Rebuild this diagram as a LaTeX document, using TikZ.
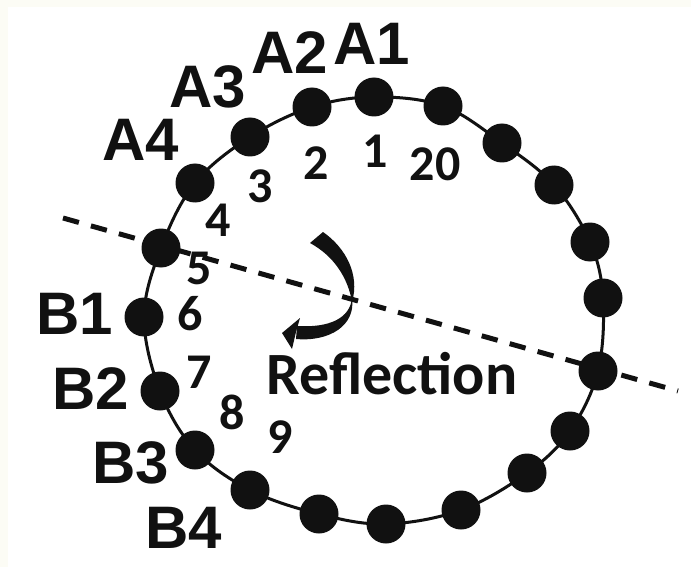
\documentclass[tikz,border=0pt]{standalone}
\usepackage{fontspec}
\newfontfamily\tagfont{Liberation Sans}
\newfontfamily\numfont{Carlito}
\definecolor{ink}{HTML}{111111}
\definecolor{paper}{HTML}{FCFCF5}
\begin{document}
\begin{tikzpicture}[x=1pt,y=-1pt,
  bead/.style={circle, fill=ink, inner sep=0pt, minimum size=39pt},
  tag/.style={inner sep=0pt, text=ink, font=\tagfont\bfseries\fontsize{60}{60}\selectfont},
  idx/.style={inner sep=0pt, text=ink, font=\numfont\bfseries\fontsize{50}{50}\selectfont},
  caption/.style={inner sep=0pt, text=ink, font=\numfont\bfseries\fontsize{60}{60}\selectfont},
  ring/.style={draw=ink, line width=3pt},
  mirror/.style={draw=ink, line width=5pt, dash pattern=on 16.5pt off 12.5pt}
]
\useasboundingbox (0,0) rectangle (691,567);
\fill[paper] (0,0) rectangle (691,567);
\fill[white] (8,7) rectangle (691,567);

% beads on the ring
\foreach \n/\px/\py in {1/374/97, 2/312/107, 3/250/137, 4/195/183, 5/161/248,
  6/144/317, 7/160/391, 8/195/450, 9/250/490, 10/319/514, 11/386/524,
  12/461/510, 13/527/473, 14/570/431, 15/598/371, 16/603/298, 17/590/242,
  18/554/185, 19/502/143, 20/443/106}
  \coordinate (c\n) at (\px,\py);

% the ring through the bead centres
\draw[ring] plot[smooth cycle, tension=0.6] coordinates {
  (c1) (c2) (c3) (c4) (c5) (c6) (c7) (c8) (c9) (c10)
  (c11) (c12) (c13) (c14) (c15) (c16) (c17) (c18) (c19) (c20)};

% mirror axis
\coordinate (axisL) at (63,218);
\coordinate (axisR) at (678,391);
\draw[mirror] (axisL) -- (axisR);

% curved reflection arrow
\fill[ink] (310,243) -- (323,232) .. controls (346,248) and (360,275) .. (352,302)
  .. controls (348,278) and (334,256) .. (310,243) -- cycle;
\fill[ink] (352,298) .. controls (350,318) and (330,328) .. (297,326) -- (296,339)
  .. controls (330,342) and (356,325) .. (352,298) -- cycle;
\fill[ink] (282,333) -- (300,318) -- (296,332) -- (292,349) -- cycle;

\foreach \n in {1,...,20}
  \node[bead] (d\n) at (c\n) {};

% bead numbers
\node[idx] (n1) at (375,151) {1};
\node[idx] (n2) at (316,163) {2};
\node[idx] (n3) at (260,186) {3};
\node[idx] (n4) at (218,220) {4};
\node[idx] (n5) at (199,268) {5};
\node[idx] (n6) at (190,314) {6};
\node[idx] (n7) at (199,372) {7};
\node[idx] (n8) at (232,412) {8};
\node[idx] (n9) at (280,437) {9};
\node[idx] (n20) at (435,164) {20};

% segment tags
\node[tag] (A1) at (372,44) {A1};
\node[tag] (A2) at (290,53) {A2};
\node[tag] (A3) at (208,87) {A3};
\node[tag] (A4) at (141,140) {A4};
\node[tag] (B1) at (75,314) {B1};
\node[tag] (B2) at (91,389) {B2};
\node[tag] (B3) at (131,463) {B3};
\node[tag] (B4) at (184,528) {B4};

\node[caption] (refl) at (392,374) {Reflection};
\end{tikzpicture}
\end{document}
